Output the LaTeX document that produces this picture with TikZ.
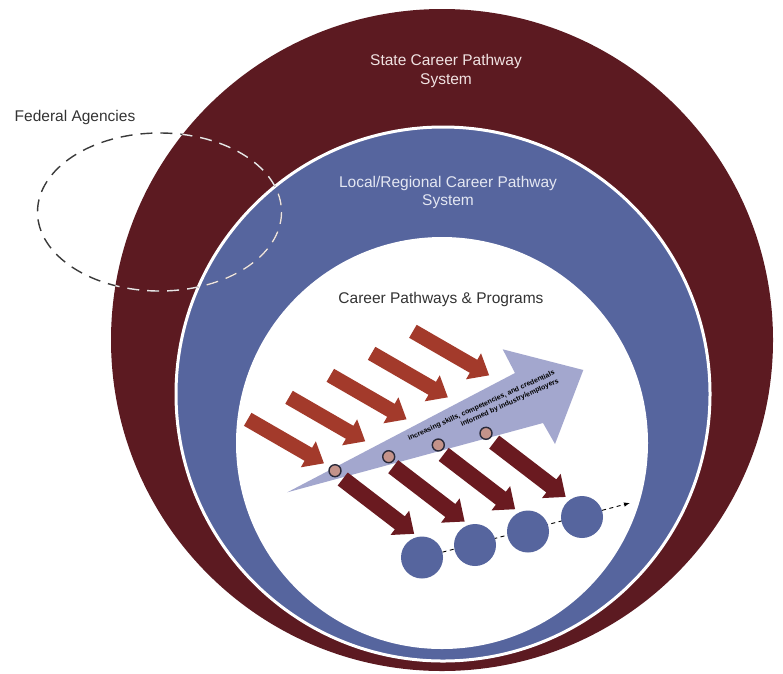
\documentclass[tikz,border=0pt]{standalone}
\usepackage{fontspec}
\setmainfont{Liberation Sans}
\usetikzlibrary{arrows.meta}
\pgfdeclarelayer{front}
\pgfsetlayers{main,front}
\definecolor{maroon}{HTML}{5C1A21}
\definecolor{band}{HTML}{56659E}
\definecolor{lav}{HTML}{A3A7CE}
\definecolor{redarr}{HTML}{A33A2B}
\definecolor{darkarr}{HTML}{6A1A20}
\definecolor{dotfill}{HTML}{C4938A}
\definecolor{dotline}{HTML}{2A2A3A}
\definecolor{fedgray}{HTML}{3A3A3A}
\definecolor{txtdark}{HTML}{333333}
\definecolor{txtpink}{HTML}{F0E2E2}
\definecolor{txtblue}{HTML}{E4E7F2}
\begin{document}
\begin{tikzpicture}[x=1pt,y=-1pt,
  lbl/.style={font=\fontsize{15.5}{18.5}\selectfont, align=center, inner sep=0pt},
  redarrow/.style={fill=redarr},
  darkarrow/.style={fill=darkarr},
  dot/.style={circle, fill=dotfill, draw=dotline, line width=1.4pt, minimum size=12pt, inner sep=0pt},
  bcirc/.style={circle, fill=band, minimum size=42pt, inner sep=0pt},
  fed/.style={dash pattern=on 12pt off 8pt, line width=1.4pt},
  dashline/.style={dash pattern=on 4pt off 3.5pt, line width=0.9pt, black, -{Latex[length=6pt,width=4.5pt]}}
]
\useasboundingbox (0,0) rectangle (783,673);
% rings
\fill[maroon] (442,340) circle [radius=331];
\fill[band, draw=white, line width=3pt] (443,394) circle [radius=267];
\fill[white] (442,443) circle [radius=206];
% federal agencies ellipse
\draw[fed, fedgray] (159.5,212) ellipse [x radius=122, y radius=79];
\begin{scope}
  \clip (442,340) circle [radius=331];
  \draw[fed, white!88!maroon] (159.5,212) ellipse [x radius=122, y radius=79];
\end{scope}
% labels
\node[lbl, text=txtdark, anchor=base] (fedlbl) at (75,121.7) {Federal Agencies};
\node[lbl, text=txtpink] (state) at (446,71) {State Career Pathway\\System};
\node[lbl, text=txtblue] (local) at (448,192.5) {Local/Regional Career Pathway\\System};
\node[lbl, text=txtdark] (cpp) at (441,299.5) {Career Pathways \& Programs};
% big lavender arrow
\fill[lav] (287.3,492.3) -- (515,373) -- (502.7,349.3) -- (583.3,370) -- (555,444) -- (543,423) -- cycle;
% red input arrows
\foreach \i in {0,...,4} {
  \begin{scope}[shift={(247.7+41.3*\i,419.3-22*\i)}, rotate=-30]
    \fill[redarrow] (0,-7.5) -- (70,-7.5) -- (70,-15) -- (88,0) -- (70,15) -- (70,7.5) -- (0,7.5) -- cycle;
  \end{scope}
}
% dark output arrows
\foreach \i in {0,...,3} {
  \begin{scope}[shift={(342.7+50.5*\i,479-12.3*\i)}, rotate=-37.5]
    \fill[darkarrow] (0,-8.2) -- (72,-8.2) -- (72,-15.3) -- (90,0) -- (72,15.3) -- (72,8.2) -- (0,8.2) -- cycle;
  \end{scope}
}
% arrow text
\node[font=\fontsize{7}{9.2}\selectfont\bfseries, align=right, inner sep=0pt, rotate=24.5] (arrtxt) at (483.5,410)
  {increasing skills, competencies, and credentials\\informed by industry/employers};
% dots on the arrow
\node[dot] (d1) at (335,470.7) {};
\node[dot] (d2) at (388.7,456.7) {};
\node[dot] (d3) at (438.3,445) {};
\node[dot] (d4) at (486,433.3) {};
% outcome circles
\begin{pgfonlayer}{front}
\node[bcirc] (c1) at (422,557.5) {};
\node[bcirc] (c2) at (475,545) {};
\node[bcirc] (c3) at (528,531.5) {};
\node[bcirc] (c4) at (582,517) {};
\end{pgfonlayer}
\coordinate (dend) at (630,503);
\draw[dashline] (c1) -- (dend);
\end{tikzpicture}
\end{document}
